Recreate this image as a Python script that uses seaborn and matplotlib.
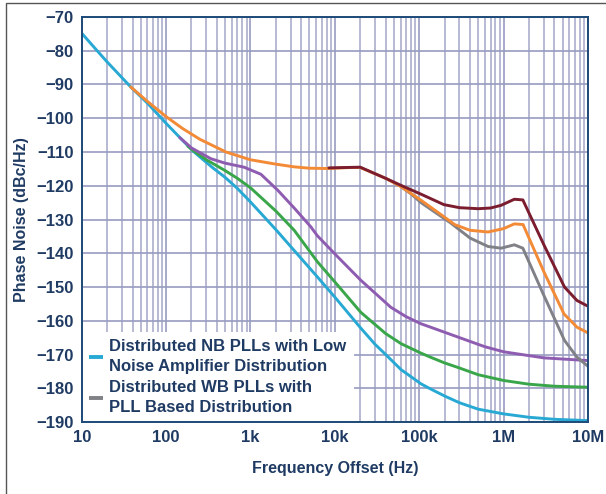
import numpy as np
import pandas as pd
import matplotlib
matplotlib.use("Agg")
import matplotlib.pyplot as plt
import matplotlib.patches as mpatches
from matplotlib.lines import Line2D
import seaborn as sns

# ---------------- data (frequency offset in Hz, phase noise in dBc/Hz) -------------
cyan_f = [10, 15, 20, 38, 60, 100, 156, 215, 350, 500, 700, 1000, 2000, 3300, 6200,
          10000, 20000, 30000, 40000, 61000, 105000, 136000, 200000, 300000, 500000,
          1e6, 2e6, 4e6, 1e7]
cyan_v = [-74.8, -79.8, -83.3, -90.7, -95.5, -101.5, -106.5, -110, -114.5, -117.5,
          -120.8, -124.8, -133, -139.2, -147, -153, -162, -167, -170, -174.5, -178.7,
          -180.2, -182.3, -184.3, -186.2, -187.6, -188.6, -189.2, -189.6]

green_f = [180, 200, 300, 500, 700, 1000, 2000, 3300, 6200, 10000, 20300, 40000, 61000,
           105000, 136000, 200000, 300000, 500000, 1e6, 2e6, 4e6, 1e7]
green_v = [-108.2, -109.2, -112.3, -115.5, -117.8, -120.6, -127.5, -133.2, -142.5,
           -148.5, -157.5, -163.8, -166.8, -169.6, -170.8, -172.5, -174, -176, -177.7,
           -178.8, -179.4, -179.7]

purple_f = [145, 200, 340, 500, 840, 1330, 2100, 3300, 5200, 6200, 10000, 20300, 46000,
            70000, 105000, 136000, 300000, 600000, 1e6, 3e6, 1e7]
purple_v = [-105.7, -108.8, -112, -113.3, -114.5, -116.6, -121.3, -126.6, -132.2, -134.8,
            -140.2, -148, -156, -158.8, -160.9, -161.9, -165, -167.7, -169.2, -171, -171.8]

gray_f = [61000, 79000, 105000, 235000, 400000, 655000, 933000, 1.34e6, 1.69e6, 3e6,
          5.26e6, 7.4e6, 1e7]
gray_v = [-120.3, -122.3, -125, -131, -135.5, -138, -138.5, -137.5, -138.5, -152.5,
          -165.8, -170.8, -173.5]

orange_f = [38, 60, 100, 156, 250, 512, 1000, 2000, 3300, 5000, 8500, 15000, 20000, 40000,
            61000, 105000, 180000, 263000, 400000, 655000, 1e6, 1.34e6, 1.7e6, 3e6, 5.2e6,
            7.4e6, 1e7]
orange_v = [-90.7, -95, -99.5, -103, -106.2, -110, -112.3, -113.6, -114.4, -114.8, -114.9,
            -114.6, -114.6, -117.8, -120.3, -124.3, -128.5, -131.5, -133.2, -133.7, -132.7,
            -131.3, -131.5, -145.5, -158, -161.9, -163.6]

maroon_f = [8500, 20000, 40000, 61000, 105000, 196000, 300000, 500000, 700000, 933000,
            1.34e6, 1.69e6, 3e6, 5.26e6, 7.4e6, 1e7]
maroon_v = [-114.7, -114.5, -117.8, -119.9, -122.5, -125.6, -126.5, -126.8, -126.6, -125.8,
            -124, -124.2, -137.5, -150, -154, -155.7]

series_names = ["cyan", "green", "purple", "gray", "orange", "maroon"]
series_colors = ["#27a9d4", "#3aa64a", "#8e5cb0", "#808087", "#f28a36", "#7b1d2e"]

legend_labels = ["Distributed NB PLLs with Low\nNoise Amplifier Distribution",
                 "Distributed WB PLLs with\nPLL Based Distribution"]

x_ticks = [10, 100, 1000, 10000, 100000, 1e6, 1e7]
x_ticklabels = ["10", "100", "1k", "10k", "100k", "1M", "10M"]
y_ticks = list(range(-190, -69, 10))
y_ticklabels = ["\u2212" + str(abs(v)) for v in y_ticks]

# ---------------- build table -------------
frames = []
for name, f, v in zip(series_names,
                      [cyan_f, green_f, purple_f, gray_f, orange_f, maroon_f],
                      [cyan_v, green_v, purple_v, gray_v, orange_v, maroon_v]):
    frames.append(pd.DataFrame({"freq": f, "pn": v, "series": name}))
df = pd.concat(frames, ignore_index=True)

# ---------------- style -------------
sns.set_style("white")
plt.rcParams["font.family"] = ["Liberation Sans", "DejaVu Sans"]
plt.rcParams["font.weight"] = "bold"
plt.rcParams["lines.solid_joinstyle"] = "round"
plt.rcParams["lines.solid_capstyle"] = "round"
text_color = "#1f3b63"
spine_color = "#1d4a78"
grid_color = "#a4a7c8"

fig = plt.figure(figsize=(6.06, 4.94), dpi=100)
pos = [81.7 / 606, 1 - 422 / 494, (588 - 81.7) / 606, (422 - 17) / 494]
ax = fig.add_axes(pos)

ax.set_xscale("log")
ax.set_xlim(10, 1e7)
ax.set_ylim(-190, -70)

# grid
ax.set_xticks(x_ticks)
ax.xaxis.set_minor_locator(matplotlib.ticker.LogLocator(base=10, subs=np.arange(2, 10)))
ax.set_yticks(y_ticks)
ax.grid(True, which="major", axis="both", color="#979bc0", linewidth=1.2)
ax.grid(True, which="minor", axis="x", color=grid_color, linewidth=1.1)
ax.tick_params(which="both", length=0, labelbottom=False, labelleft=False)
for s in ax.spines.values():
    s.set_visible(False)

sns.lineplot(data=df, x="freq", y="pn", hue="series", hue_order=series_names,
             palette=dict(zip(series_names, series_colors)), estimator=None,
             sort=False, linewidth=2.1, legend=False, ax=ax)
ax.set_xlabel("")
ax.set_ylabel("")

handles = [Line2D([0], [0], color=series_colors[0], lw=2.8, solid_capstyle="butt"),
           Line2D([0], [0], color=series_colors[3], lw=2.8, solid_capstyle="butt")]
leg = ax.legend(handles, legend_labels, loc="lower left", bbox_to_anchor=(0, 0),
                borderaxespad=0.0, frameon=True, fancybox=False, framealpha=1,
                facecolor="white", edgecolor="none",
                handlelength=0.8, handletextpad=0.4, labelspacing=0.4,
                borderpad=0.45, prop={"weight": "bold", "size": 12})
for t in leg.get_texts():
    t.set_color(text_color)
    t.set_linespacing(1.35)

# overlay frame axes with ticks and labels
ax2 = fig.add_axes(pos, zorder=ax.get_zorder() + 1)
ax2.patch.set_visible(False)
ax2.set_xscale("log")
ax2.set_xlim(10, 1e7)
ax2.set_ylim(-190, -70)
ax2.set_xticks(x_ticks)
ax2.set_xticklabels(x_ticklabels)
ax2.xaxis.set_minor_locator(matplotlib.ticker.LogLocator(base=10, subs=np.arange(2, 10)))
ax2.xaxis.set_minor_formatter(matplotlib.ticker.NullFormatter())
ax2.set_yticks(y_ticks)
ax2.set_yticklabels(y_ticklabels)
ax2.tick_params(which="major", direction="in", length=4, width=1, color="#7d87ab",
                labelsize=12, labelcolor=text_color, pad=6)
ax2.tick_params(which="minor", direction="in", length=3, width=0.8, color="#7d87ab")
for lab in ax2.get_xticklabels() + ax2.get_yticklabels():
    lab.set_fontweight("bold")
for s in ax2.spines.values():
    s.set_color(spine_color)
    s.set_linewidth(1.4)
ax2.set_xlabel("Frequency Offset (Hz)", fontsize=11.5, fontweight="bold", color=text_color,
               labelpad=11)
ax2.set_ylabel("Phase Noise (dBc/Hz)", fontsize=11.5, fontweight="bold", color=text_color,
               labelpad=5)

# thin figure frame (visible on the left and top)
fig.patches.append(mpatches.Rectangle((6 / 606, -0.1), 1.2, 1.1 - 3 / 494,
                                      transform=fig.transFigure, fill=False,
                                      edgecolor="#555555", linewidth=1.0))

fig.savefig("out.png", dpi=100)
